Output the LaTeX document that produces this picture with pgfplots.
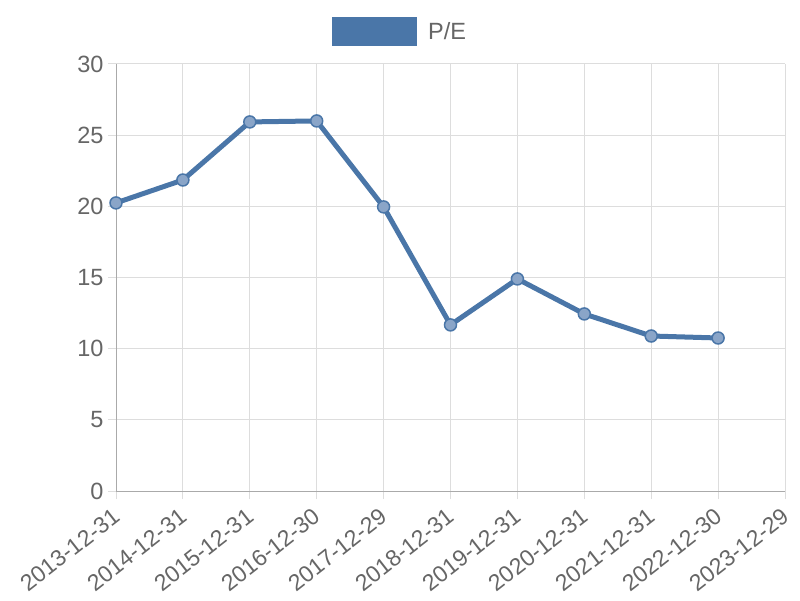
\documentclass[border=0pt]{standalone}
\usepackage{fontspec}
\setmainfont{Liberation Sans}
\usepackage{pgfplots}
\pgfplotsset{compat=1.18}
\definecolor{pe}{HTML}{4A76A8}
\definecolor{pefill}{HTML}{8AA5C8}
\definecolor{gridc}{HTML}{DDDDDD}
\definecolor{axc}{HTML}{AAAAAA}
\definecolor{txt}{HTML}{666666}
\begin{document}
\begin{tikzpicture}[x=1pt,y=1pt]
\begin{axis}[
  at={(116pt,109pt)}, anchor=south west,
  scale only axis, width=669pt, height=427pt,
  xmin=0, xmax=10, ymin=0, ymax=30,
  xtick={0,...,10},
  xticklabels={2013-12-31,2014-12-31,2015-12-31,2016-12-30,2017-12-29,2018-12-31,2019-12-31,2020-12-31,2021-12-31,2022-12-30,2023-12-29},
  ytick={0,5,...,30},
  x tick label style={rotate=38, anchor=north east, font=\fontsize{23}{26}\selectfont, text=txt, yshift=-3pt, xshift=-8pt, inner sep=0.5pt},
  y tick label style={font=\fontsize{23.5}{26}\selectfont, text=txt, xshift=-1pt},
  /pgf/number format/assume math mode=true,
  grid=major, major grid style={gridc, line width=1pt},
  axis line style={axc, line width=1pt},
  axis x line*=bottom, axis y line*=left,
  tick style={gridc, line width=1pt},
  major tick length=8pt, tick align=outside,
  every outer x axis line/.append style={-}, every outer y axis line/.append style={-},
  clip=false,
]
\addplot[pe, line width=5pt, mark=*, mark size=6pt, mark options={fill=pefill, draw=pe, line width=1.5pt}] coordinates {
(0,20.24) (1,21.85) (2,25.93) (3,26.0) (4,19.96) (5,11.67) (6,14.9) (7,12.44) (8,10.89) (9,10.75)
};
\end{axis}
\fill[pe] (332pt,554pt) rectangle (417pt,583pt);
\node[anchor=west, text=txt, font=\fontsize{23.5}{26}\selectfont, inner sep=0pt] at (428pt,568.5pt) {P/E};
\pgfresetboundingbox
\path (0,0) rectangle (800pt,600pt);
\end{tikzpicture}
\end{document}
